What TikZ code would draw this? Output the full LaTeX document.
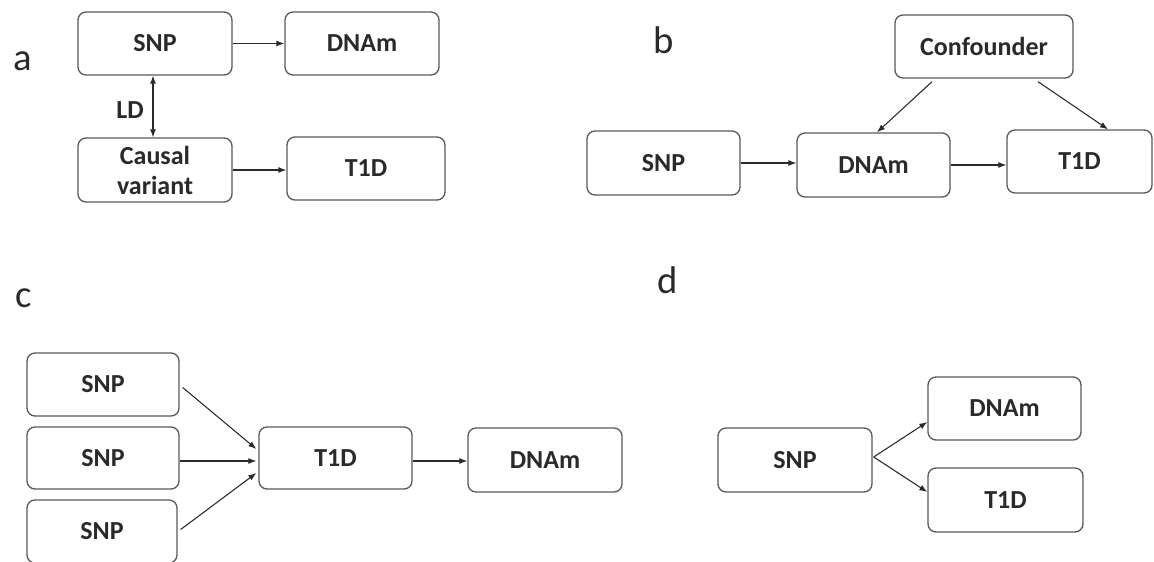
\documentclass[tikz,border=0pt]{standalone}
\usepackage{fontspec}
\setmainfont{Carlito}
\usetikzlibrary{arrows.meta,calc}
\definecolor{boxgray}{HTML}{5A5A5A}
\definecolor{txtgray}{HTML}{2A2A2A}
\definecolor{arrgray}{HTML}{2A2A2A}
\tikzset{
  box/.style={draw=boxgray, line width=1pt, rounded corners=6pt, inner sep=0pt,
    text=txtgray, align=center, font=\bfseries\fontsize{19.5}{22.5}\selectfont},
  plabel/.style={anchor=base west, inner sep=0pt, text=txtgray, font=\fontsize{29}{32}\selectfont},
  conn/.style={draw=arrgray, line width=0.8pt, -{Latex[length=6pt,width=4.5pt]}},
  dconn/.style={draw=arrgray, line width=0.8pt, {Latex[length=6pt,width=4.5pt]}-{Latex[length=6pt,width=4.5pt]}},
}
\newcommand{\bx}[6]{\node[box, minimum width=#4*0.75pt, minimum height=#5*0.75pt] (#1) at (#2,#3) {#6};}
\begin{document}
\begin{tikzpicture}[x=0.75pt,y=-0.75pt]
\useasboundingbox (0,0) rectangle (1154,561);
\fill[white] (0,0) rectangle (1154,561);
\clip (0,0) rectangle (1154,561);
% labels
\node[plabel] (la) at (13,70) {a};
\node[plabel] (lb) at (653,53) {b};
\node[plabel] (lc) at (15,307) {c};
\node[plabel] (ld) at (657,293) {d};
% panel a
\bx{aSNP}{155}{43.5}{154}{63}{SNP}
\bx{aDNAm}{362}{43.5}{154}{63}{DNAm}
\bx{aCV}{155}{170}{154}{64}{Causal\\variant}
\bx{aT1D}{366}{168.5}{158}{63}{T1D}
\draw[conn] (aSNP.east) -- (aSNP.east -| aDNAm.west);
\draw[conn] (aCV.east) -- (aCV.east -| aT1D.west);
\draw[dconn] ($(aSNP.south)+(-2,0)$) -- ($(aCV.north)+(-2,0)$);
\node[text=txtgray, font=\bfseries\fontsize{19.5}{22.5}\selectfont] (ldlab) at (130,110) {LD};
% panel b
\bx{bConf}{984}{46.5}{178}{63}{Confounder}
\bx{bSNP}{663.5}{163}{153}{64}{SNP}
\bx{bDNAm}{873.5}{165}{153}{64}{DNAm}
\bx{bT1D}{1079.5}{161.5}{145}{63}{T1D}
\draw[conn] (bSNP.east) -- (bSNP.east -| bDNAm.west);
\draw[conn] (bDNAm.east) -- (bDNAm.east -| bT1D.west);
\draw[conn] ($(bConf.south)+(-52,3)$) -- ($(bDNAm.north)+(3.5,0)$);
\draw[conn] ($(bConf.south)+(54,3)$) -- ($(bT1D.north)+(28.5,0)$);
% panel c
\bx{cS1}{103}{384.5}{152}{63}{SNP}
\bx{cS2}{103}{458}{152}{62}{SNP}
\bx{cS3}{102}{531.5}{150}{63}{SNP}
\bx{cT1D}{335.5}{458}{153}{62}{T1D}
\bx{cDNAm}{545}{460}{154}{64}{DNAm}
\draw[conn] ($(cS1.east)+(3,3)$) -- ($(cT1D.west)+(-2,-9)$);
\draw[conn] ($(cS2.east)+(0,3)$) -- ($(cT1D.west)+(-2,3)$);
\draw[conn] ($(cS3.east)+(3,-2)$) -- ($(cT1D.west)+(-2,15)$);
\coordinate (cTe) at ($(cT1D.east)+(0,3)$);
\draw[conn] (cTe) -- (cTe -| cDNAm.west);
% panel d
\bx{dSNP}{795}{460}{154}{64}{SNP}
\bx{dDNAm}{1004.5}{408.5}{153}{63}{DNAm}
\bx{dT1D}{1005.5}{500}{155}{64}{T1D}
\draw[conn] ($(dSNP.east)+(1,-3)$) -- ($(dDNAm.west)+(0,13.5)$);
\draw[conn] ($(dSNP.east)+(1,-3)$) -- ($(dT1D.west)+(0,-8)$);
\end{tikzpicture}
\end{document}
